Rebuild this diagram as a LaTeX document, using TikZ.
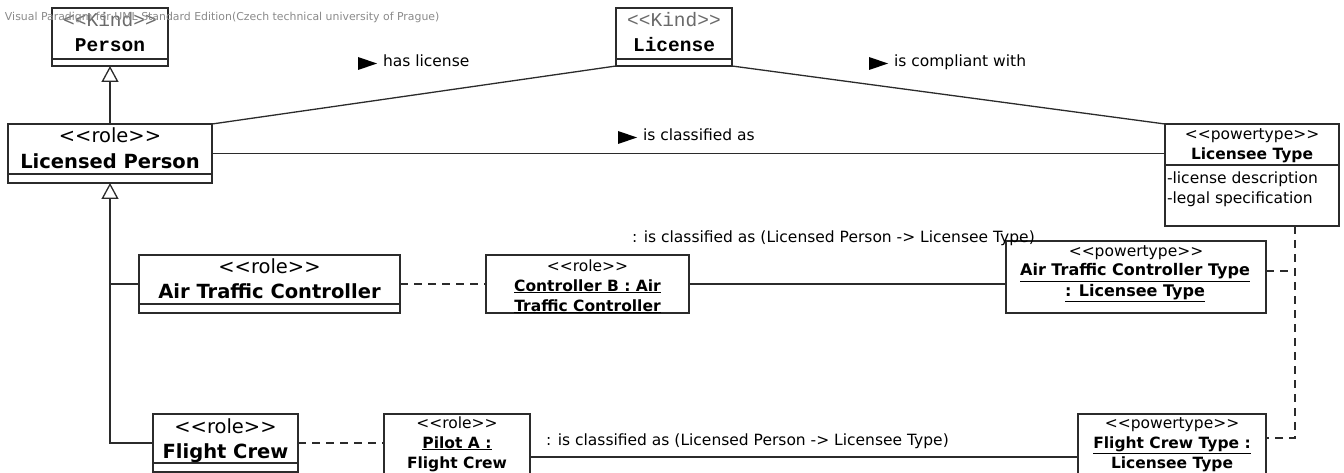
\documentclass[tikz,border=0pt]{standalone}
\usepackage{fontspec}
\setmainfont{DejaVu Sans}[Ligatures=TeXOff]
\setmonofont{Liberation Mono}
\usetikzlibrary{arrows.meta}
\definecolor{lc}{HTML}{2B2B2B}
\definecolor{wm}{HTML}{8A8A8A}
\definecolor{st}{HTML}{6A6A6A}
\newcommand{\fbig}{\fontsize{19.5}{22}\selectfont}
\newcommand{\fnorm}{\fontsize{15.5}{18}\selectfont}
\newcommand{\fmono}{\fontsize{19.5}{22}\ttfamily}
\newcommand{\ul}[1]{\underline{\textbf{#1}}}
\begin{document}
\begin{tikzpicture}[x=1pt,y=-1pt,
  box/.style={draw=lc, line width=1.3pt, fill=white, inner sep=0pt, outer sep=0pt},
  ln/.style={draw=lc, line width=1.3pt},
  dsh/.style={draw=lc, line width=1.3pt, dash pattern=on 8pt off 6pt},
  gen/.style={ln, -{Triangle[open, length=16pt, width=17pt, line width=1.3pt]}},
  t/.style={inner sep=0pt, outer sep=0pt, anchor=base, text=black},
  tl/.style={inner sep=0pt, outer sep=0pt, anchor=base west, text=black},
  tri/.style={fill=black, draw=none}]
\useasboundingbox (0,0) rectangle (1344,473);
\clip (0,0) rectangle (1344,473);

% ---------- classes ----------
\node[box, minimum width=116pt, minimum height=58pt] (person) at (110,37) {};
\draw[ln] (person.west |- 0,59) -- (person.east |- 0,59);
\node[t, font=\fmono, text=st] (personst) at (110,27) {<<Kind>>};
\node[t, font=\fmono\bfseries] (personnm) at (110,52) {Person};

\node[box, minimum width=116pt, minimum height=58pt] (lic) at (674,37) {};
\draw[ln] (lic.west |- 0,59) -- (lic.east |- 0,59);
\node[t, font=\fmono, text=st] (licst) at (674,27) {<<Kind>>};
\node[t, font=\fmono\bfseries] (licnm) at (674,52) {License};

\node[box, minimum width=204pt, minimum height=59pt] (lp) at (110,153.5) {};
\draw[ln] (lp.west |- 0,174) -- (lp.east |- 0,174);
\node[t, font=\fbig] (lpst) at (110,143) {<<role>>};
\node[t, font=\fbig\bfseries] (lpnm) at (110,169) {Licensed Person};

\node[box, minimum width=174pt, minimum height=102pt] (lt) at (1252,175) {};
\draw[ln] (lt.west |- 0,165) -- (lt.east |- 0,165);
\node[t, font=\fnorm] (ltst) at (1252,140) {<<powertype>>};
\node[t, font=\fnorm\bfseries] (ltnm) at (1252,160) {Licensee Type};
\node[tl, font=\fnorm] (lta1) at (1167,184) {-license description};
\node[tl, font=\fnorm] (lta2) at (1167,204) {-legal specification};

\node[box, minimum width=261pt, minimum height=58pt] (atc) at (269.5,284) {};
\draw[ln] (atc.west |- 0,304) -- (atc.east |- 0,304);
\node[t, font=\fbig] (atcst) at (269.5,273) {<<role>>};
\node[t, font=\fbig\bfseries] (atcnm) at (269.5,298) {Air Traffic Controller};

\node[box, minimum width=145pt, minimum height=58pt] (fc) at (225.5,443) {};
\draw[ln] (fc.west |- 0,463) -- (fc.east |- 0,463);
\node[t, font=\fbig] (fcst) at (225.5,433) {<<role>>};
\node[t, font=\fbig\bfseries] (fcnm) at (225.5,458) {Flight Crew};

% ---------- instances ----------
\node[box, minimum width=203pt, minimum height=58pt] (cb) at (587.5,284) {};
\node[t, font=\fnorm] (cbst) at (587.5,272) {<<role>>};
\node[t, font=\fnorm] (cbn1) at (587.5,291) {\ul{Controller B : Air}};
\node[t, font=\fnorm] (cbn2) at (587.5,311) {\ul{Traffic Controller}};

\node[box, minimum width=260pt, minimum height=72pt] (atct) at (1136,277) {};
\node[t, font=\fnorm] (atctst) at (1136,256) {<<powertype>>};
\node[t, font=\fontsize{16}{18}\selectfont] (atctn1) at (1135,276) {\ul{Air Traffic Controller Type}};
\node[t, font=\fontsize{16}{18}\selectfont] (atctn2) at (1135,296) {\ul{: Licensee Type}};

\node[box, minimum width=146pt, minimum height=76pt] (pa) at (457,452) {};
\node[t, font=\fnorm] (past) at (457,428) {<<role>>};
\node[t, font=\fnorm] (pan1) at (457,448) {\ul{Pilot A :}};
\node[t, font=\fnorm] (pan2) at (457,468) {\ul{Flight Crew}};

\node[box, minimum width=188pt, minimum height=76pt] (fct) at (1172,452) {};
\node[t, font=\fnorm] (fctst) at (1172,428) {<<powertype>>};
\node[t, font=\fnorm] (fctn1) at (1172,448) {\ul{Flight Crew Type :}};
\node[t, font=\fnorm] (fctn2) at (1172,468) {\ul{Licensee Type}};

% ---------- generalizations ----------
\draw[gen] (lp.north) -- (person.south);
\draw[gen] (fc.west) -| (lp.south);
\draw[ln] (atc.west) -- (atc.west -| lp.south);

% ---------- associations ----------
\draw[ln] (lp.north east) -- (lic.south west);
\draw[ln] (lic.south east) -- (lt.north west);
\draw[ln] (lp.east) -- (lp.east -| lt.west);

\path[tri] (358,57) -- (377,63.5) -- (358,70) -- cycle;
\node[tl, font=\fnorm] (hasl) at (383,67) {has license};
\path[tri] (869,57) -- (888,63.5) -- (869,70) -- cycle;
\node[tl, font=\fnorm] (compl) at (894,67) {is compliant with};
\path[tri] (618,131) -- (637,137.5) -- (618,144) -- cycle;
\node[tl, font=\fnorm] (clas) at (643,141) {is classified as};

% ---------- links ----------
\draw[dsh] (atc.east) -- (cb.west);
\draw[dsh] (fc.east) -- (fc.east -| pa.west);
\draw[ln] (cb.east) -- (cb.east -| atct.west);
\draw[ln] (pa.east |- 0,457) -- (fct.west |- 0,457);
\node[tl, font=\fnorm] (lnk1) at (632,243) {: is classified as (Licensed Person -> Licensee Type)};
\node[tl, font=\fnorm] (lnk2) at (546,445) {: is classified as (Licensed Person -> Licensee Type)};

% ---------- powertype instance links ----------
\coordinate (j) at (1295,438);
\draw[dsh] (j |- lt.south) -- (j) -- (j -| fct.east);
\draw[dsh] (atct.east |- 0,271) -- (j |- 0,271);

% ---------- tool stamp ----------
\node[tl, font=\fontsize{10.9}{12}\selectfont, text=wm] (stamp) at (5,21) {Visual Paradigm for UML Standard Edition(Czech technical university of Prague)};
\end{tikzpicture}
\end{document}
